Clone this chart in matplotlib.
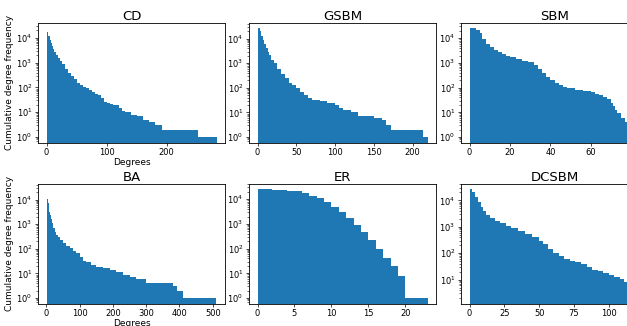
import numpy as np
import matplotlib
matplotlib.use("Agg")
import matplotlib.pyplot as plt

titles = ["CD", "GSBM", "SBM", "BA", "ER", "DCSBM"]

# cumulative degree counts: bin edges + count per bin
cd_edges = [0, 1.5, 3, 5, 7, 9, 11, 13, 16, 19, 22, 25, 30, 35, 40, 45, 50, 55, 60, 65,
            70, 75, 80, 85, 90, 95, 100, 105, 110, 120, 125, 130, 140, 150, 160, 170, 180, 193, 252, 283]
cd_counts = [24000, 17000, 12000, 8500, 6000, 4500, 3500, 2700, 2000, 1500, 1150, 850, 560, 400, 290,
             210, 155, 125, 105, 92, 78, 66, 55, 48, 36, 27, 23, 21, 19, 15, 11, 10, 8, 7, 5, 4, 3, 2, 1]

gsbm_edges = [0, 3, 5, 7, 9, 11, 13, 15, 18, 21, 25, 30, 35, 40, 45, 50, 55, 60, 65, 70,
              80, 90, 100, 105, 110, 120, 130, 150, 160, 165, 172, 213, 219]
gsbm_counts = [26000, 20000, 13000, 8800, 6000, 4200, 3000, 2100, 1400, 1000, 600, 360, 240, 165, 125,
               95, 70, 53, 40, 32, 28, 24, 20, 15, 13, 10, 7, 6, 5, 3, 2, 1]

sbm_edges = [0, 3, 5, 6, 8, 10, 12, 14, 16, 18, 20, 23, 26, 29, 32, 34, 36, 38, 40, 42,
             44, 46, 48, 52, 56, 60, 62, 64, 66, 68, 70, 71, 72, 73, 75, 77, 78, 80, 84]
sbm_counts = [25000, 21000, 17000, 9000, 5800, 4300, 3300, 2700, 2300, 1950, 1700, 1450, 1250, 1050,
              820, 580, 400, 270, 200, 155, 125, 105, 95, 84, 74, 67, 58, 50, 43, 34, 24, 18, 13, 9,
              6, 4, 2, 1]

ba_edges = [1, 2, 3, 5, 7, 9, 11, 13, 16, 20, 25, 30, 35, 40, 50, 60, 70, 80, 90, 100,
            110, 120, 135, 150, 170, 190, 210, 230, 250, 270, 300, 381, 393, 411, 511]
ba_counts = [26000, 16000, 10500, 7000, 5000, 3200, 2300, 1700, 1100, 700, 480, 370, 290, 235, 175,
             135, 105, 85, 65, 45, 33, 28, 23, 19, 16, 14, 11, 9, 7, 6, 4, 3, 2, 1]

er_edges = list(range(0, 24))
er_counts = [25000, 24900, 24700, 24000, 22500, 21000, 18000, 14000, 10800, 7500, 5000, 3100,
             1700, 930, 480, 220, 100, 43, 19, 8, 1, 1, 1]

dcsbm_edges = [0, 2, 4, 6, 8, 10, 12, 15, 18, 22, 26, 30, 35, 40, 45, 50, 53, 56, 60, 64,
               68, 72, 76, 80, 84, 88, 92, 96, 100, 104, 108, 111, 113, 115, 117, 120, 122]
dcsbm_counts = [26000, 20000, 14000, 9000, 5800, 3800, 2800, 2200, 1700, 1350, 1100, 880, 680, 530,
                400, 300, 220, 150, 105, 78, 62, 52, 47, 40, 30, 24, 21, 18, 15, 13, 11, 8, 6, 4, 3, 2]

xticks = [[0, 100, 200], [0, 50, 100, 150, 200], [0, 20, 40, 60, 80],
          [0, 100, 200, 300, 400, 500], [0, 5, 10, 15, 20], [0, 25, 50, 75, 100]]

edges_all = [cd_edges, gsbm_edges, sbm_edges, ba_edges, er_edges, dcsbm_edges]
counts_all = [cd_counts, gsbm_counts, sbm_counts, ba_counts, er_counts, dcsbm_counts]

W, H = 627, 326
fig = plt.figure(figsize=(W / 100, H / 100), dpi=100)

col_left = [38, 249, 461]
row_top = [23, 184]
aw, ah = 187, 119.5

for i in range(6):
    r, c = divmod(i, 3)
    ax = fig.add_axes([col_left[c] / W, (H - row_top[r] - ah) / H, aw / W, ah / H])
    e, n = edges_all[i], counts_all[i]
    ax.stairs(n, e, fill=True, baseline=1e-3, color="#1f77b4", linewidth=0)
    ax.set_yscale("log")
    lo, hi = np.log10(min(n)), np.log10(max(n))
    p = 0.05 * (hi - lo)
    ax.set_ylim(10 ** (lo - p), 10 ** (hi + p))
    xp = 0.05 * (e[-1] - e[0])
    ax.set_xlim(e[0] - xp, e[-1] + xp)
    ax.set_xticks(xticks[i])
    ax.set_title(titles[i], fontsize=9.5, pad=2)
    ax.tick_params(which="major", labelsize=6, length=2.5, width=0.5, pad=1.5)
    ax.tick_params(which="minor", length=1.5, width=0.4)
    for s in ax.spines.values():
        s.set_linewidth(0.6)
    if c == 0:
        ax.set_ylabel("Cumulative degree frequency", fontsize=6.5, labelpad=2)
        ax.set_xlabel("Degrees", fontsize=6.5, labelpad=1)

fig.savefig("out.png", dpi=100)
